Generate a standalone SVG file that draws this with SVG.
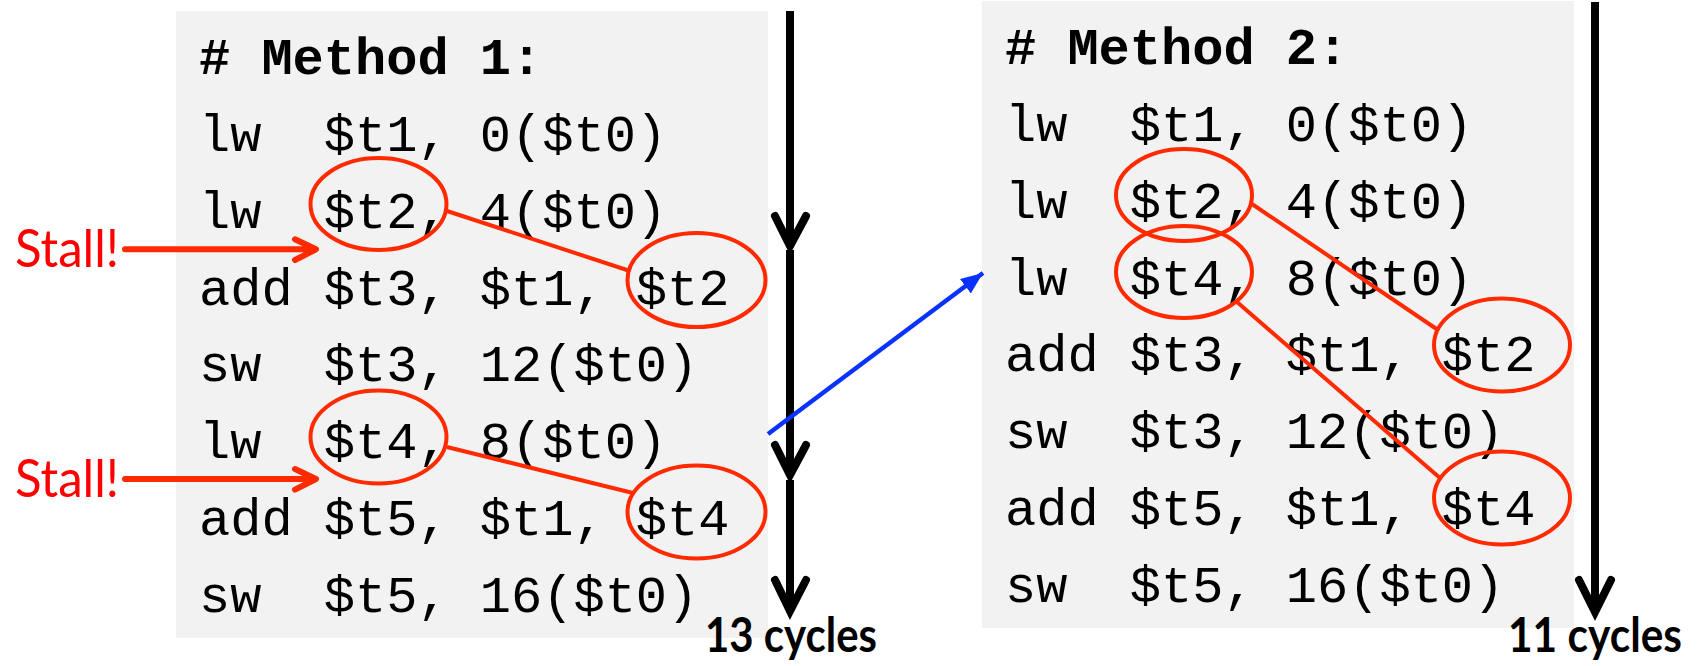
<svg xmlns="http://www.w3.org/2000/svg" width="1701" height="666" viewBox="0 0 1701 666">
<defs>
<style>
.box{fill:#f2f2f2;}
.code{font-family:"Liberation Mono","Courier New",monospace;font-size:52px;fill:#000;white-space:pre;}
.hdr{font-family:"Liberation Mono","Courier New",monospace;font-size:52px;font-weight:bold;fill:#000;white-space:pre;}
.circ{fill:none;stroke:#ff2a00;stroke-width:4;}
.rl{stroke:#ff2a00;stroke-width:4;fill:none;}
.stall{font-family:"Lato","Open Sans",sans-serif;font-size:52px;fill:#ff0000;}
.cyc{font-family:"Lato","Open Sans",sans-serif;font-size:47px;font-weight:bold;fill:#000;}
.sa{stroke:#ff2a00;stroke-width:6;fill:none;stroke-linecap:round;stroke-linejoin:round;}
.bl{stroke:#000;stroke-width:8;fill:none;}
.bh{stroke:#000;stroke-width:8;fill:none;stroke-linecap:round;stroke-linejoin:miter;}
.blue{stroke:#0a32ff;stroke-width:4.5;fill:none;}
</style>
<marker id="bluehead" markerUnits="userSpaceOnUse" markerWidth="24" markerHeight="20" refX="22" refY="9" orient="auto">
<path d="M0,0 L22,9 L0,18 Z" fill="#0a32ff"/>
</marker>
</defs>
<rect width="1701" height="666" fill="#fff"/>
<g id="method1">
<rect class="box" x="176" y="11" width="592" height="627"/>
<text class="hdr" x="199" y="74"># Method 1:</text>
<text class="code" x="199" y="151">lw  $t1, 0($t0)</text>
<text class="code" x="199" y="228">lw  $t2, 4($t0)</text>
<text class="code" x="199" y="305">add $t3, $t1, $t2</text>
<text class="code" x="199" y="381">sw  $t3, 12($t0)</text>
<text class="code" x="199" y="458">lw  $t4, 8($t0)</text>
<text class="code" x="199" y="535">add $t5, $t1, $t4</text>
<text class="code" x="199" y="612">sw  $t5, 16($t0)</text>
</g>
<g id="method2">
<rect class="box" x="982" y="1" width="592" height="627"/>
<text class="hdr" x="1005" y="64"># Method 2:</text>
<text class="code" x="1005" y="141">lw  $t1, 0($t0)</text>
<text class="code" x="1005" y="218">lw  $t2, 4($t0)</text>
<text class="code" x="1005" y="295">lw  $t4, 8($t0)</text>
<text class="code" x="1005" y="371">add $t3, $t1, $t2</text>
<text class="code" x="1005" y="448">sw  $t3, 12($t0)</text>
<text class="code" x="1005" y="525">add $t5, $t1, $t4</text>
<text class="code" x="1005" y="602">sw  $t5, 16($t0)</text>
</g>
<g id="m1-t2-def"><ellipse class="circ" cx="378.5" cy="204" rx="68" ry="46"/></g>
<g id="m1-t2-use"><ellipse class="circ" cx="696.5" cy="280" rx="69" ry="47"/></g>
<g id="m1-t4-def"><ellipse class="circ" cx="378.5" cy="437" rx="68" ry="46.5"/></g>
<g id="m1-t4-use"><ellipse class="circ" cx="696.5" cy="512" rx="69" ry="46.5"/></g>
<g id="m2-t2-def"><ellipse class="circ" cx="1184" cy="195" rx="68" ry="46"/></g>
<g id="m2-t4-def"><ellipse class="circ" cx="1184" cy="272" rx="68" ry="46"/></g>
<g id="m2-t2-use"><ellipse class="circ" cx="1502" cy="345" rx="68" ry="46.5"/></g>
<g id="m2-t4-use"><ellipse class="circ" cx="1502" cy="498" rx="68" ry="46.5"/></g>
<g id="stall1"><text class="stall" x="15" y="267" textLength="104" lengthAdjust="spacingAndGlyphs">Stall!</text></g>
<g id="stall2"><text class="stall" x="15" y="497" textLength="104" lengthAdjust="spacingAndGlyphs">Stall!</text></g>
<g id="cycles13"><text class="cyc" x="705" y="652" textLength="172" lengthAdjust="spacingAndGlyphs">13 cycles</text></g>
<g id="cycles11"><text class="cyc" x="1508" y="652" textLength="174" lengthAdjust="spacingAndGlyphs">11 cycles</text></g>
<g id="connectors">
<line class="rl" x1="447" y1="211" x2="630" y2="271"/>
<line class="rl" x1="447" y1="447" x2="633" y2="493"/>
<line class="rl" x1="1252" y1="204" x2="1438" y2="330"/>
<line class="rl" x1="1237" y1="302" x2="1440" y2="478"/>
<path class="sa" d="M125,249.3 H314 M295,239.3 L316,249.3 L295,260"/>
<path class="sa" d="M125,479 H314 M295,469 L316,479 L295,489.7"/>
<line class="bl" x1="790" y1="11" x2="790" y2="244"/>
<path class="bh" d="M775,216 L790,246 L806,216"/>
<line class="bl" x1="790" y1="250" x2="790" y2="473"/>
<path class="bh" d="M775,445 L790,475 L806,445"/>
<line class="bl" x1="790" y1="480" x2="790" y2="609"/>
<path class="bh" d="M775,580 L790,611 L806,580"/>
<line class="bl" x1="1595" y1="2" x2="1595" y2="610"/>
<path class="bh" d="M1579,580 L1595,612 L1611,580"/>
<line class="blue" x1="768" y1="434" x2="983" y2="273" marker-end="url(#bluehead)"/>
</g>
</svg>
